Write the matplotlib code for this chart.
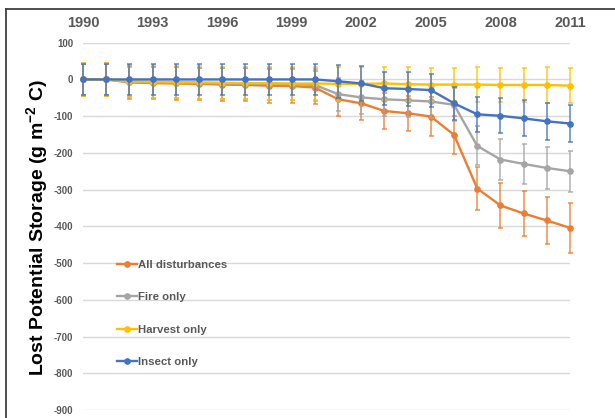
import numpy as np
import matplotlib
matplotlib.use('Agg')
import matplotlib.pyplot as plt
from matplotlib.lines import Line2D

plt.rcParams['font.family'] = ['Liberation Sans', 'DejaVu Sans']
plt.rcParams['font.weight'] = 'bold'
plt.rcParams['axes.unicode_minus'] = False
plt.rcParams['mathtext.fontset'] = 'custom'
plt.rcParams['mathtext.rm'] = 'Liberation Sans:bold'
plt.rcParams['mathtext.bf'] = 'Liberation Sans:bold'
plt.rcParams['mathtext.default'] = 'rm'

years = np.arange(1990, 2012)

all_dist = [0, 0, -8, -10, -11, -12, -14, -15, -17, -18, -22,
            -54, -65, -86, -92, -101, -151, -297, -343, -365, -384, -404]
all_err = [44, 44, 44, 44, 44, 44, 44, 45, 46, 46, 46,
           45, 46, 48, 48, 52, 51, 58, 62, 62, 65, 68]

fire = [0, 0, -7, -8, -9, -10, -11, -12, -12, -13, -15,
        -40, -49, -54, -57, -60, -69, -181, -218, -230, -241, -250]
fire_err = [42, 42, 42, 42, 42, 42, 42, 42, 43, 43, 43,
            45, 45, 45, 45, 45, 45, 53, 56, 55, 56, 56]

harvest = [0, 0, -5, -6, -7, -8, -9, -10, -10, -11, -11,
           -12, -12, -11, -13, -14, -14, -14, -15, -15, -15, -17]
harvest_err = [44, 44, 44, 44, 44, 44, 44, 44, 45, 45, 45,
               46, 46, 45, 46, 46, 46, 47, 47, 47, 48, 48]

insect = [0, 0, 0, 0, 0, 0, 0, 0, 0, 0, 0,
          -5, -11, -24, -26, -29, -65, -95, -99, -106, -114, -120]
insect_err = [43, 43, 43, 43, 43, 43, 43, 43, 43, 43, 43,
              45, 47, 45, 47, 45, 45, 48, 48, 49, 50, 50]

labels = ['All disturbances', 'Fire only', 'Harvest only', 'Insect only']
colors = ['#ED7D31', '#A5A5A5', '#FFC000', '#4472C4']
series = [all_dist, fire, harvest, insect]
errors = [all_err, fire_err, harvest_err, insect_err]

fig = plt.figure(figsize=(6.15, 4.18), dpi=100)
ax = fig.add_axes([83 / 615, 1 - 410 / 418, 487 / 615, (410 - 42.7) / 418])

for i, (vals, err, col) in enumerate(zip(series, errors, colors)):
    eb = ax.errorbar(years, vals, yerr=err, color=col, ecolor=col, lw=1.7,
                     elinewidth=1.2, capsize=1.8, capthick=1.2,
                     marker='o', markersize=3.8, zorder=3 + i, clip_on=False)
    for part in eb[1] + eb[2]:
        part.set_alpha(0.8)
        part.set_clip_on(False)

ax.set_xlim(1990, 2011)
ax.set_ylim(-900, 100)
ax.set_yticks(np.arange(-900, 101, 100))
ax.set_xticks(np.arange(1990, 2012, 3))
ax.xaxis.tick_top()
ax.tick_params(axis='x', length=0, pad=9, labelsize=10.5, labelcolor='#595959')
ax.tick_params(axis='y', length=0, pad=7, labelsize=7, labelcolor='#595959')
for lab in ax.get_xticklabels() + ax.get_yticklabels():
    lab.set_fontweight('bold')
ax.grid(axis='y', color='#D9D9D9', lw=1)
ax.set_axisbelow(True)
for sp in ax.spines.values():
    sp.set_visible(False)

fig.text(37 / 615, 1 - 227.5 / 418, r'Lost Potential Storage (g m$^{-2}$ C)',
         rotation=90, ha='center', va='center', fontsize=14, fontweight='bold')

handles = [Line2D([], [], color=c, lw=1.7, marker='o', markersize=3.8) for c in colors]
ax.legend(handles, labels, loc='upper left', bbox_to_anchor=(111 / 615, 1 - 254 / 418),
          bbox_transform=fig.transFigure, frameon=False, handlelength=1.75,
          handletextpad=0.15, labelspacing=1.98, borderpad=0,
          prop={'size': 8.2, 'weight': 'bold'}, labelcolor='#595959')

# outer frame (top and left edges visible)
fig.add_artist(Line2D([6 / 615, 1], [1 - 9 / 418] * 2, color='#404040', lw=1.3,
                      transform=fig.transFigure))
fig.add_artist(Line2D([6 / 615] * 2, [0, 1 - 9 / 418], color='#404040', lw=1.3,
                      transform=fig.transFigure))

fig.savefig('out.png', dpi=100)
